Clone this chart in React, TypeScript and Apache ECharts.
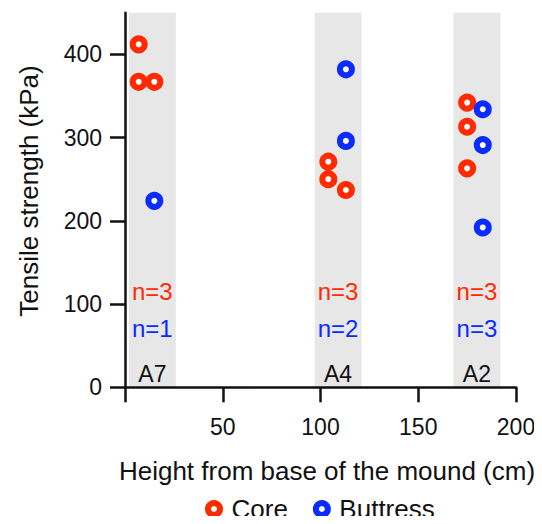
import React, { useEffect, useRef } from "react";
import * as echarts from "echarts";

// ---- data ----
const sites = ["A7", "A4", "A2"];
const bandStart = [2, 97, 168];
const bandEnd = [26, 121, 192];
const coreN = [3, 3, 3];
const buttressN = [1, 2, 3];

const coreHeights = [7, 7, 15, 104, 104, 113, 175, 175, 175];
const coreStrength = [412, 367, 367, 271, 250, 237, 342, 313, 263];

const buttressHeights = [15, 113, 113, 183, 183, 183];
const buttressStrength = [224, 382, 296, 334, 291, 192];

const xTicks = [0, 50, 100, 150, 200];
const xTickLabels = [50, 100, 150, 200];
const yTicks = [0, 100, 200, 300, 400];

const RED = "#FF2A00";
const BLUE = "#0B2BFF";
const FONT = "Liberation Sans, Arial, Helvetica, sans-serif";

export default function App() {
  const ref = useRef<HTMLDivElement>(null);

  useEffect(() => {
    if (!ref.current) return;
    const chart = echarts.init(ref.current, undefined, { renderer: "svg" });

    const bandCenters = bandStart.map((s, i) => (s + bandEnd[i]) / 2);
    const coreLabelY = 115;
    const buttressLabelY = 71;
    const siteLabelY = 16;

    const ringStyle = (c: string) => ({
      color: "#ffffff",
      borderColor: c,
      borderWidth: 6,
      opacity: 1,
    });

    const textSeries = (
      name: string,
      data: any[],
      color: string,
      fontSize: number
    ) => ({
      name,
      type: "scatter",
      symbol: "circle",
      symbolSize: 1,
      silent: true,
      z: 5,
      itemStyle: { opacity: 0 },
      data,
      label: {
        show: true,
        position: "inside",
        formatter: (p: any) => String(p.data[2]),
        color,
        opacity: 1,
        fontSize,
        fontFamily: FONT,
      },
    });

    chart.setOption({
      animation: false,
      textStyle: { fontFamily: FONT },
      grid: { left: 125, right: 26, top: 12.7, bottom: 136.7 },
      xAxis: {
        type: "value",
        min: 0,
        max: 200,
        interval: 50,
        splitLine: { show: false },
        axisLine: { lineStyle: { color: "#111", width: 2.5 } },
        axisTick: {
          length: 15,
          customValues: xTicks,
          lineStyle: { color: "#111", width: 2.5 },
        },
        axisLabel: {
          customValues: xTickLabels,
          fontSize: 23,
          color: "#111",
          margin: 28,
          fontFamily: FONT,
        },
      },
      yAxis: {
        type: "value",
        min: 0,
        max: 450,
        splitLine: { show: false },
        axisLine: { show: true, lineStyle: { color: "#111", width: 2.5 } },
        axisTick: {
          show: true,
          length: 15,
          customValues: yTicks,
          lineStyle: { color: "#111", width: 2.5 },
        },
        axisLabel: {
          customValues: yTicks,
          fontSize: 23,
          color: "#111",
          margin: 23,
          fontFamily: FONT,
        },
      },
      legend: {
        left: 200,
        top: 491,
        padding: 5,
        data: [
          { name: "Core", itemStyle: ringStyle(RED) },
          { name: "Buttress", itemStyle: ringStyle(BLUE) },
        ],
        icon: "circle",
        itemWidth: 25,
        itemHeight: 12,
        itemGap: 25,
        textStyle: { fontSize: 26, color: "#111", fontFamily: FONT },
      },
      graphic: [
        {
          type: "text",
          x: 327,
          y: 471,
          style: {
            text: "Height from base of the mound (cm)",
            fontSize: 26,
            fontFamily: FONT,
            fill: "#111",
            textAlign: "center",
            textVerticalAlign: "middle",
          },
        },
        {
          type: "text",
          x: 29,
          y: 191,
          rotation: Math.PI / 2,
          style: {
            text: "Tensile strength (kPa)",
            fontSize: 26,
            fontFamily: FONT,
            fill: "#111",
            textAlign: "center",
            textVerticalAlign: "middle",
          },
        },
      ],
      series: [
        {
          name: "bands",
          type: "scatter",
          data: [],
          z: 0,
          silent: true,
          markArea: {
            silent: true,
            z: 0,
            itemStyle: { color: "#E7E7E7", opacity: 1 },
            data: bandStart.map((s, i) => [{ xAxis: s }, { xAxis: bandEnd[i] }]),
          },
        },
        {
          name: "Core",
          type: "scatter",
          z: 3,
          symbol: "circle",
          symbolSize: 12,
          itemStyle: ringStyle(RED),
          data: coreHeights.map((h, i) => [h, coreStrength[i]]),
        },
        {
          name: "Buttress",
          type: "scatter",
          z: 3,
          symbol: "circle",
          symbolSize: 12,
          itemStyle: ringStyle(BLUE),
          data: buttressHeights.map((h, i) => [h, buttressStrength[i]]),
        },
        textSeries(
          "coreN",
          bandCenters.map((c, i) => [c, coreLabelY, "n=" + coreN[i]]),
          RED,
          24
        ),
        textSeries(
          "buttressN",
          bandCenters.map((c, i) => [c, buttressLabelY, "n=" + buttressN[i]]),
          BLUE,
          24
        ),
        textSeries(
          "sites",
          bandCenters.map((c, i) => [c, siteLabelY, sites[i]]),
          "#111",
          23
        ),
      ],
    });

    return () => chart.dispose();
  }, []);

  return <div ref={ref} style={{ width: 542, height: 524, margin: -8 }} />;
}
